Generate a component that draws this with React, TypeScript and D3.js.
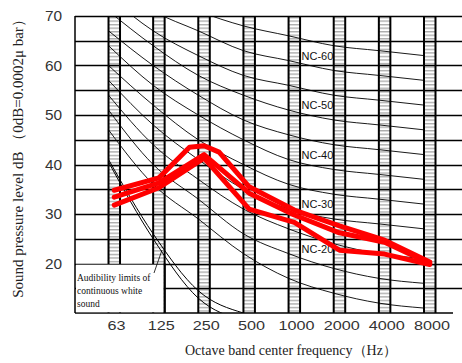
import React, { useRef, useEffect } from 'react';
import * as d3 from 'd3';

// octave bands (Hz)
const bands = [63, 125, 250, 500, 1000, 2000, 4000, 8000];
const bandLabels = ['63', '125', '250', '500', '1000', '2000', '4000', '8000'];
const yTicks = [20, 30, 40, 50, 60, 70];
const yGrid = [15, 20, 25, 30, 35, 40, 45, 50, 55, 60, 65, 70];

// NC curves, dB at each octave band
const ncNames = [15, 20, 25, 30, 35, 40, 45, 50, 55, 60, 65];
const nc15 = [47, 36, 29, 22, 17, 14, 12, 11];
const nc20 = [51, 40, 33, 26, 22, 19, 17, 16];
const nc25 = [54, 44, 37, 31, 27, 24, 22, 21];
const nc30 = [57, 48, 41, 35, 31, 29, 28, 27];
const nc35 = [60, 52, 45, 40, 36, 34, 33, 32];
const nc40 = [64, 56, 50, 45, 41, 39, 38, 37];
const nc45 = [67, 60, 54, 49, 46, 44, 43, 42];
const nc50 = [71, 64, 58, 54, 51, 49, 48, 47];
const nc55 = [74, 67, 62, 58, 56, 54, 53, 52];
const nc60 = [77, 71, 67, 63, 61, 59, 58, 57];
const nc65 = [80, 75, 71, 68, 66, 64, 63, 62];
const ncCurves = [nc15, nc20, nc25, nc30, nc35, nc40, nc45, nc50, nc55, nc60, nc65];
const ncLabelled = [20, 30, 40, 50, 60];

// audibility limits of continuous white sound (drawn as a double line)
const audFreq = [63, 125, 250, 500];
const audA = [40.5, 25, 13, 8.5];
const audB = [41, 26, 14.5, 10];

// measured spectra (red)
const s1Freq = [63, 125, 200, 250, 315, 500, 1000, 2000, 4000, 8000];
const s1 = [34.8, 37.3, 43.5, 43.8, 42.5, 35.5, 30.8, 27.6, 24.7, 20.3];
const s2 = [33.4, 36.3, 42, 34.2, 29.8, 26.2, 24.3, 20];
const s3 = [31.8, 35.3, 41.3, 31, 28.3, 22.7, 21.9, 19.8];

const W = 462;
const H = 363;

const NCChart = () => {
  const svgRef = useRef<SVGSVGElement>(null);

  useEffect(() => {
    const svg = d3.select(svgRef.current);
    svg.selectAll('*').remove();

    const left = 75, top = 16, bottom = 313, right = 462;
    const ladderW = 11.5;
    const mid = ladderW / 2;

    const x = d3.scaleLog().base(2).domain([62.5, 8000]).range([108, 424]);
    const y = d3.scaleLinear().domain([10, 70]).range([bottom, top]);

    const defs = svg.append('defs');
    const step = (y(10) - y(15)) / 7;
    const pat = defs.append('pattern')
      .attr('id', 'rungs')
      .attr('patternUnits', 'userSpaceOnUse')
      .attr('y', top)
      .attr('width', 20)
      .attr('height', step);
    pat.append('rect').attr('width', 20).attr('height', 10).attr('fill', '#fff');
    pat.append('rect')
      .attr('x', 0).attr('y', 1).attr('width', 20).attr('height', 1.2)
      .attr('fill', '#a0a0a0');
    defs.append('clipPath').attr('id', 'plot')
      .append('rect').attr('x', left).attr('y', top)
      .attr('width', right - left).attr('height', bottom - top);

    svg.append('rect').attr('width', W).attr('height', H).attr('fill', '#fff');

    // ladder columns
    const lad = svg.append('g');
    bands.forEach(f => {
      lad.append('rect')
        .attr('x', x(f)).attr('y', top)
        .attr('width', ladderW).attr('height', bottom - top)
        .attr('fill', 'url(#rungs)');
    });

    // horizontal grid
    svg.append('g').selectAll('line')
      .data(yGrid)
      .enter().append('line')
      .attr('x1', left).attr('x2', right)
      .attr('y1', d => Math.round(y(d)) + 0.5).attr('y2', d => Math.round(y(d)) + 0.5)
      .attr('stroke', '#000').attr('stroke-width', 1.3);

    bands.forEach(f => {
      [x(f), x(f) + ladderW].forEach(px => {
        lad.append('line')
          .attr('x1', px).attr('x2', px).attr('y1', top).attr('y2', bottom)
          .attr('stroke', '#000').attr('stroke-width', 2);
      });
    });

    // frame
    svg.append('line').attr('x1', left).attr('x2', left).attr('y1', top).attr('y2', bottom)
      .attr('stroke', '#000').attr('stroke-width', 1.5);
    svg.append('line').attr('x1', left).attr('x2', 453).attr('y1', bottom).attr('y2', bottom)
      .attr('stroke', '#000').attr('stroke-width', 1.5);

    // NC curves
    const ncLine = d3.line<number>()
      .x((_, i) => x(bands[i]))
      .y(d => y(d))
      .curve(d3.curveMonotoneX);
    const ncG = svg.append('g').attr('clip-path', 'url(#plot)');
    ncCurves.forEach(c => {
      ncG.append('path').attr('d', ncLine(c))
        .attr('fill', 'none').attr('stroke', '#000').attr('stroke-width', 0.9);
    });

    ncNames.forEach((n, i) => {
      if (!ncLabelled.includes(n)) return;
      svg.append('text')
        .attr('x', x(1000) + 13)
        .attr('y', y(ncCurves[i][4]) - 1)
        .attr('font-family', 'Liberation Sans, Arial, sans-serif')
        .attr('font-size', 11)
        .attr('fill', '#111')
        .text('NC-' + n);
    });

    // audibility box
    svg.append('rect')
      .attr('x', left + 1).attr('y', y(20) + 1.2)
      .attr('width', x(125) + ladderW - left - 2).attr('height', bottom - y(20) - 2)
      .attr('fill', '#fff');
    svg.append('line')
      .attr('x1', x(125) + ladderW).attr('x2', x(125) + ladderW)
      .attr('y1', y(20)).attr('y2', bottom)
      .attr('stroke', '#000').attr('stroke-width', 2);
    const boxText = svg.append('text')
      .attr('font-family', 'Liberation Serif, Times New Roman, serif')
      .attr('font-size', 9.5)
      .attr('fill', '#111');
    ['Audibility limits of', 'continuous white', 'sound'].forEach((t, i) => {
      boxText.append('tspan').attr('x', 77).attr('y', 281 + i * 13).text(t);
    });

    const audLine = d3.line<number>()
      .x((_, i) => x(audFreq[i]))
      .y(d => y(d))
      .curve(d3.curveMonotoneX);
    const audG = svg.append('g').attr('clip-path', 'url(#plot)');
    [audA, audB].forEach(a => {
      audG.append('path').attr('d', audLine(a))
        .attr('fill', 'none').attr('stroke', '#000').attr('stroke-width', 1);
    });
    svg.append('line')
      .attr('x1', 154).attr('y1', 273).attr('x2', 162).attr('y2', 250)
      .attr('stroke', '#000').attr('stroke-width', 0.8);

    // measured spectra
    const redLine = d3.line<[number, number]>()
      .x(d => x(d[0]) + mid)
      .y(d => y(d[1]));
    const series: [number, number][][] = [
      s1Freq.map((f, i) => [f, s1[i]]),
      bands.map((f, i) => [f, s2[i]]),
      bands.map((f, i) => [f, s3[i]]),
    ];
    series.forEach(s => {
      svg.append('path').attr('d', redLine(s))
        .attr('fill', 'none').attr('stroke', '#ff0000')
        .attr('stroke-width', 5).attr('stroke-linejoin', 'round')
        .attr('stroke-linecap', 'round');
    });

    // tick labels
    svg.append('g').selectAll('text')
      .data(yTicks)
      .enter().append('text')
      .attr('transform', d => `translate(62,${y(d) + 5}) scale(1.1,1)`)
      .attr('text-anchor', 'end')
      .attr('font-family', 'Liberation Sans, Arial, sans-serif')
      .attr('font-size', 14)
      .attr('fill', '#333')
      .text(d => d);

    svg.append('g').selectAll('text')
      .data(bands)
      .enter().append('text')
      .attr('transform', d => `translate(${x(d) + 8},330) scale(1.35,1)`)
      .attr('text-anchor', 'middle')
      .attr('font-family', 'Liberation Sans, Arial, sans-serif')
      .attr('font-size', 12)
      .attr('fill', '#333')
      .text((_, i) => bandLabels[i]);

    // axis titles
    svg.append('text')
      .attr('transform', 'translate(23,155) rotate(-90)')
      .attr('text-anchor', 'middle')
      .attr('font-family', 'Liberation Serif, Times New Roman, serif')
      .attr('font-size', 15)
      .attr('fill', '#222')
      .text('Sound pressure level dB （0dB=0.0002μ bar）');

    svg.append('text')
      .attr('x', 185).attr('y', 355)
      .attr('font-family', 'Liberation Serif, Times New Roman, serif')
      .attr('font-size', 14)
      .attr('fill', '#222')
      .text('Octave band center frequency（Hz）');
  }, []);

  return (
    <svg ref={svgRef} width={W} height={H}
      style={{ position: 'absolute', left: 0, top: 0, display: 'block' }}></svg>
  );
};

export default function App() {
  return <NCChart />;
}
